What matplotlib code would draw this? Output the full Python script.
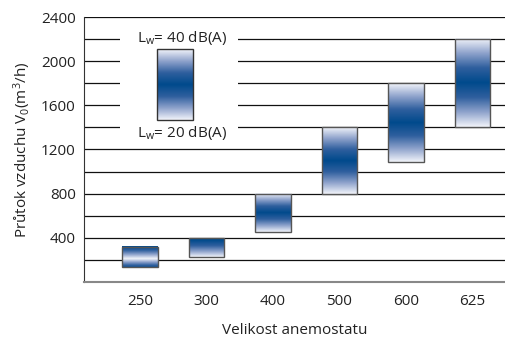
import numpy as np
import matplotlib
matplotlib.use('Agg')
import matplotlib.pyplot as plt
from matplotlib.colors import LinearSegmentedColormap
from matplotlib.patches import Rectangle

plt.rcParams['font.family'] = ['Open Sans', 'DejaVu Sans']
plt.rcParams['mathtext.fontset'] = 'custom'
plt.rcParams['mathtext.rm'] = 'Open Sans'
plt.rcParams['mathtext.it'] = 'Open Sans'

# data: airflow range per diffuser size (Lw 20 .. 40 dB(A))
sizes = ['250', '300', '400', '500', '600', '625']
flow_low = [135, 230, 450, 800, 1090, 1400]
flow_high = [320, 400, 800, 1400, 1800, 2200]

# gradient profile per bar (position from bottom, darkness)
profiles = [
    [(0, 0.85), (0.4, 0.0), (1, 1.0)],
    [(0, 0.0), (0.9, 1.0), (1, 1.0)],
    [(0, 0.0), (0.5, 1.0), (1, 0.0)],
    [(0, 0.0), (0.5, 1.0), (1, 0.0)],
    [(0, 0.0), (0.5, 1.0), (1, 0.0)],
    [(0, 0.0), (0.5, 1.0), (1, 0.0)],
]

cmap = LinearSegmentedColormap.from_list('bl', ['#f2f4fa', '#8fa3cc', '#2f5f9e', '#004a8c'])

fig = plt.figure(figsize=(5.05, 3.38), dpi=100)
ax = fig.add_axes([0.1663, 0.1657, 0.8337, 0.784])
ax.set_xlim(-0.842, 5.489)
ax.set_ylim(0, 2400)

for y in range(200, 2600, 200):
    ax.axhline(y, color='#111111', lw=0.9, zorder=1)


def grad_box(x0, x1, y0, y1, prof, ec):
    t = np.linspace(0, 1, 200)
    pos = [p[0] for p in prof]
    val = [p[1] for p in prof]
    g = np.interp(t, pos, val)[:, None]
    ax.imshow(g, cmap=cmap, vmin=0, vmax=1, origin='lower', aspect='auto',
              extent=(x0, x1, y0, y1), zorder=3, interpolation='bilinear')
    ax.add_patch(Rectangle((x0, y0), x1 - x0, y1 - y0, fill=False,
                           ec=ec, lw=1.0, zorder=4))


w = 0.27
for i in range(len(sizes)):
    grad_box(i - w, i + w, flow_low[i], flow_high[i], profiles[i], '#555555')

# legend box with white background
ax.add_patch(Rectangle((-0.30, 1290), 1.77, 1010, fc='white', ec='none', zorder=2))
grad_box(0.256, 0.797, 1467, 2110, [(0, 0.0), (0.5, 1.0), (1, 0.0)], '#333333')
ax.text(0.64, 2210, r'L$_\mathrm{w}$= 40 dB(A)', ha='center', va='center',
        fontsize=11, color='#222222', zorder=5)
ax.text(0.64, 1350, r'L$_\mathrm{w}$= 20 dB(A)', ha='center', va='center',
        fontsize=11, color='#222222', zorder=5)

ax.set_xticks(range(len(sizes)))
ax.set_xticklabels(sizes)
ax.set_yticks([400, 800, 1200, 1600, 2000, 2400])
ax.tick_params(axis='both', length=0, labelsize=11, colors='#222222', pad=6)
ax.tick_params(axis='x', pad=9)

ax.spines['top'].set_visible(False)
ax.spines['right'].set_visible(False)
ax.spines['left'].set_color('#333333')
ax.spines['bottom'].set_color('#888888')
ax.spines['bottom'].set_linewidth(1.5)

ax.set_ylabel(r'Průtok vzduchu V$_0$(m$^3$/h)', fontsize=11, color='#222222', labelpad=6)
ax.set_xlabel('Velikost anemostatu', fontsize=11, color='#222222', labelpad=10)

fig.savefig('out.png', dpi=100)
